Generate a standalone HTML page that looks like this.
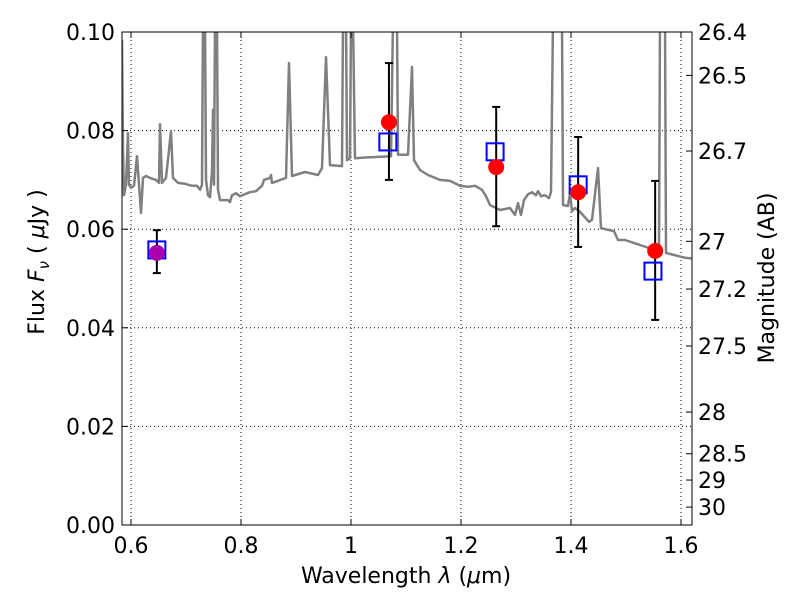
<!DOCTYPE html>
<html><head><meta charset="utf-8"><style>
body{margin:0;background:#fff}
svg{font-family:"DejaVu Sans","Liberation Sans",sans-serif}
</style></head><body>
<svg id="c" width="800" height="600" xmlns="http://www.w3.org/2000/svg"></svg>
<script>
const specWave=[0.5836,0.5855,0.5873,0.5909,0.5945,0.5964,0.6,0.6055,0.6109,0.6145,
0.6182,0.6218,0.6273,0.6345,0.6455,0.6509,0.6527,0.6564,0.6636,0.6727,
0.6764,0.6855,0.6982,0.7109,0.72,0.7255,0.7291,0.7309,0.7345,0.7364,
0.74,0.7436,0.7473,0.7491,0.7509,0.7527,0.7564,0.7582,0.7618,0.7764,
0.78,0.7836,0.7909,0.7982,0.8164,0.8273,0.8382,0.8418,0.8527,0.8545,
0.8564,0.8818,0.8873,0.8927,0.9164,0.94,0.9473,0.9545,0.9618,0.9836,
0.9855,0.9909,0.9927,0.9982,1.0,1.0036,1.0073,1.0327,1.0382,1.0727,1.0764,
1.0836,1.0855,1.1036,1.1109,1.1145,1.1255,1.14,1.1618,1.18,1.1982,
1.2127,1.2255,1.2382,1.2455,1.2527,1.2709,1.28,1.2891,1.2982,1.3036,
1.3091,1.3145,1.3218,1.3291,1.3364,1.34,1.3455,1.3527,1.36,1.3636,
1.3673,1.3836,1.3855,1.3945,1.3982,1.4018,1.4073,1.4164,1.4327,1.4382,
1.4491,1.4545,1.4782,1.4855,1.4982,1.5255,1.5527,1.56,1.5618,1.5709,
1.5727,1.6073,1.6255];
const specFlux=[0.0984,0.0761,0.0669,0.0690,0.0795,0.0690,0.0684,0.0688,0.0748,0.0690,
0.0633,0.0704,0.0708,0.0704,0.0700,0.0694,0.0813,0.0694,0.0704,0.0799,
0.0704,0.0694,0.0692,0.0688,0.0688,0.0680,0.0690,0.1024,0.1024,0.0700,
0.0669,0.0665,0.0716,0.0842,0.0690,0.1024,0.1024,0.0680,0.0659,0.0659,
0.0655,0.0669,0.0673,0.0667,0.0675,0.0677,0.0688,0.0700,0.0704,0.0710,
0.0694,0.0704,0.0937,0.0708,0.0716,0.0710,0.0724,0.0949,0.0730,0.0728,
0.1024,0.1024,0.0740,0.0744,0.1024,0.1024,0.0744,0.0746,0.0746,0.0748,0.1024,
0.1024,0.0751,0.0751,0.0929,0.0740,0.0720,0.0710,0.0700,0.0698,0.0688,
0.0686,0.0688,0.0680,0.0667,0.0649,0.0639,0.0641,0.0643,0.0629,0.0653,
0.0629,0.0659,0.0671,0.0675,0.0669,0.0677,0.0667,0.0669,0.0663,0.0675,
0.1024,0.1024,0.0649,0.0647,0.0673,0.0637,0.0643,0.0635,0.0615,0.0619,
0.0724,0.0602,0.0596,0.0578,0.0578,0.0568,0.0558,0.0558,0.1024,0.1024,
0.0552,0.0542,0.0540];
const obsWave=[0.647,1.069,1.264,1.413,1.553];
const obsFlux=[0.0552,0.0817,0.0726,0.0675,0.0556];
const errHi=[0.0598,0.0937,0.0848,0.0787,0.0698];
const errLo=[0.0511,0.0700,0.0606,0.0564,0.0416];
const modWave=[0.647,1.067,1.262,1.413,1.549];
const modFlux=[0.0558,0.0777,0.0757,0.0690,0.0515];
const xTicks=[0.6,0.8,1.0,1.2,1.4,1.6];
const xTickLabels=["0.6","0.8","1","1.2","1.4","1.6"];
const yTicks=[0,0.02,0.04,0.06,0.08,0.10];
const yTickLabels=["0.00","0.02","0.04","0.06","0.08","0.10"];
const magTicks=[26.4,26.5,26.7,27,27.2,27.5,28,28.5,29,30];
const magTickLabels=["26.4","26.5","26.7","27","27.2","27.5","28","28.5","29","30"];

const L=122,R=692,T=32,B=525;
const X=w=>131+(w-0.6)*550;
const Y=f=>B-f*(B-T)/0.1;
const magToFlux=m=>Math.pow(10,(23.9-m)/2.5);
const svg=document.getElementById('c');
const NS='http://www.w3.org/2000/svg';
function mk(tag,attrs,parent){const e=document.createElementNS(NS,tag);for(const k in attrs)e.setAttribute(k,attrs[k]);(parent||svg).appendChild(e);return e;}

const defs=mk('defs',{});
const cp=mk('clipPath',{id:'clip'},defs);
mk('rect',{x:L,y:T,width:R-L,height:B-T},cp);

const grid=mk('g',{stroke:'#000','stroke-width':1,'stroke-dasharray':'1,3'});


xTicks.forEach(t=>mk('line',{x1:X(t),x2:X(t),y1:T,y2:B},grid));
yTicks.forEach(t=>mk('line',{x1:L,x2:R,y1:Y(t),y2:Y(t)},grid));

let d='';
specWave.forEach((w,i)=>{d+=(i?'L':'M')+X(w).toFixed(1)+','+Y(specFlux[i]).toFixed(1);});
const sp=mk('path',{d:d,fill:'none',stroke:'#808080','stroke-width':2.5,'clip-path':'url(#clip)','stroke-linejoin':'round'});



obsWave.forEach((w,i)=>{
  const g=mk('g',{stroke:'#000','stroke-width':2});
  
  
  mk('line',{x1:X(w),x2:X(w),y1:Y(errHi[i]),y2:Y(errLo[i])},g);
  mk('line',{x1:X(w)-4,x2:X(w)+4,y1:Y(errHi[i]),y2:Y(errHi[i])},g);
  mk('line',{x1:X(w)-4,x2:X(w)+4,y1:Y(errLo[i]),y2:Y(errLo[i])},g);
});
modWave.forEach((w,i)=>{
  const r=mk('rect',{x:X(w)-8.5,y:Y(modFlux[i])-8.5,width:17,height:17,fill:'none',stroke:'#0000ff','stroke-width':2});
  
  
});
obsWave.forEach((w,i)=>{
  const c=mk('circle',{cx:X(w),cy:Y(obsFlux[i]),r:8,fill:i===0?'#aa00aa':'#ff0000'});
  
  
});

const fr=mk('rect',{x:L,y:T,width:R-L,height:B-T,fill:'none',stroke:'#000','stroke-width':1});



const tk=mk('g',{stroke:'#000','stroke-width':1});


xTicks.forEach(t=>{mk('line',{x1:X(t),x2:X(t),y1:B,y2:B-6},tk);mk('line',{x1:X(t),x2:X(t),y1:T,y2:T+6},tk);});
yTicks.forEach(t=>mk('line',{x1:L,x2:L+6,y1:Y(t),y2:Y(t)},tk));
magTicks.forEach(m=>mk('line',{x1:R,x2:R-6,y1:Y(magToFlux(m)),y2:Y(magToFlux(m))},tk));

xTicks.forEach((t,i)=>{const e=mk('text',{x:X(t),y:553,'font-size':22,'text-anchor':'middle'});e.textContent=xTickLabels[i];
});
yTicks.forEach((t,i)=>{const e=mk('text',{x:115,y:Y(t)+8,'font-size':22,'text-anchor':'end'});e.textContent=yTickLabels[i];
});
magTicks.forEach((m,i)=>{const e=mk('text',{x:698,y:Y(magToFlux(m))+8,'font-size':22});e.textContent=magTickLabels[i];
});

const xl=mk('text',{x:406,y:583,'font-size':22,'text-anchor':'middle'});
xl.setAttribute('xml:space','preserve');
xl.innerHTML='Wavelength  <tspan font-style="italic">λ</tspan> (<tspan font-style="italic">μ</tspan>m)';

const yl=mk('text',{x:0,y:0,'font-size':22,'text-anchor':'middle',transform:'translate(44,262) rotate(-90)'});
yl.setAttribute('xml:space','preserve');
yl.innerHTML='Flux  <tspan font-style="italic">F</tspan><tspan font-style="italic" font-size="15" dy="5">ν</tspan><tspan dy="-5">  (  </tspan><tspan font-style="italic">μ</tspan>Jy )';

const rl=mk('text',{x:0,y:0,'font-size':22,'text-anchor':'middle',transform:'translate(774,278) rotate(-90)'});
rl.textContent='Magnitude (AB)';

</script>
</body></html>
